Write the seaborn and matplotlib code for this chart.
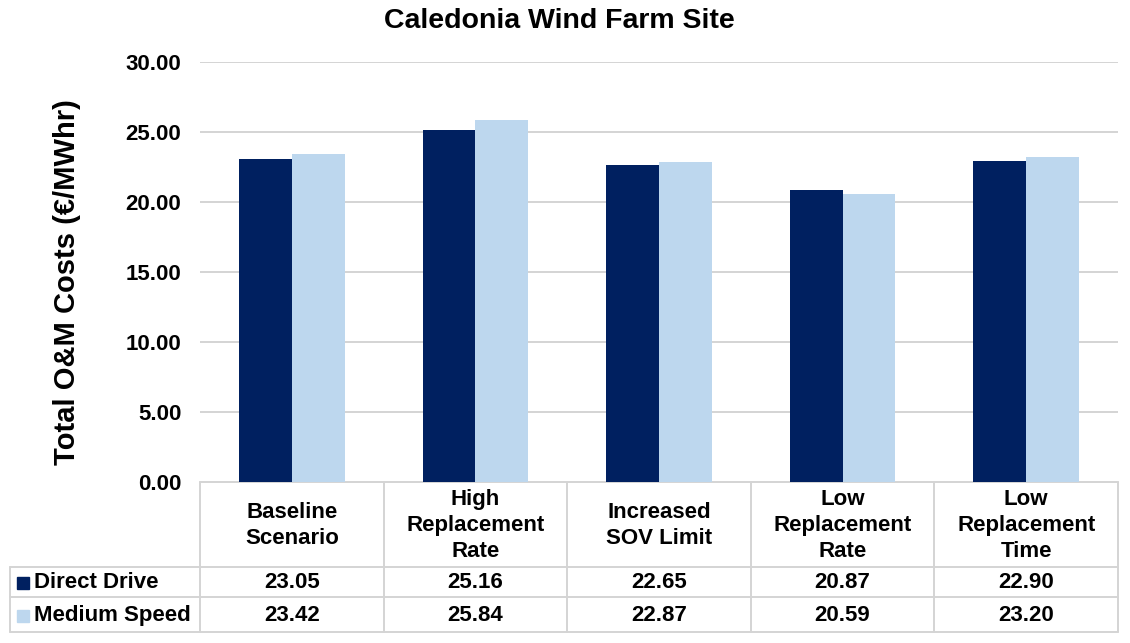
import matplotlib
matplotlib.use("Agg")
import matplotlib.pyplot as plt
import seaborn as sns
import pandas as pd
from matplotlib.lines import Line2D
from matplotlib.patches import Rectangle

categories = ["Baseline\nScenario", "High\nReplacement\nRate", "Increased\nSOV Limit",
              "Low\nReplacement\nRate", "Low\nReplacement\nTime"]
series_names = ["Direct Drive", "Medium Speed"]
direct_drive = [23.05, 25.16, 22.65, 20.87, 22.90]
medium_speed = [23.42, 25.84, 22.87, 20.59, 23.20]
yticks = [0, 5, 10, 15, 20, 25, 30]
colors = ["#002060", "#BDD7EE"]

sns.set_theme(style="white")
plt.rcParams["font.family"] = ["Liberation Sans", "DejaVu Sans"]
plt.rcParams["font.weight"] = "bold"
plt.rcParams["text.color"] = "black"
plt.rcParams["ytick.color"] = "black"

df = pd.DataFrame({
    "cat": categories * 2,
    "series": [series_names[0]] * 5 + [series_names[1]] * 5,
    "value": direct_drive + medium_speed,
})

W, H = 1130, 643
fig = plt.figure(figsize=(W / 100, H / 100), dpi=100)
L, R, T, B = 200, 1118, 62, 482
ax = fig.add_axes([L / W, 1 - B / H, (R - L) / W, (B - T) / H])
sns.barplot(data=df, x="cat", y="value", hue="series", palette=colors,
            width=0.575, saturation=1, ax=ax, legend=False, zorder=3,
            linewidth=0, edgecolor="none")
ax.set_ylim(0, 30)
ax.set_xlim(-0.5, 4.5)
ax.set_yticks(yticks)
ax.set_yticklabels([f"{v:.2f}" for v in yticks], fontsize=16, fontweight="bold")
ax.set_xticks([])
ax.set_xlabel("")
ax.set_ylabel("")
gc = "#D4D4D4"
lw = 1.4
ax.yaxis.grid(True, color=gc, linewidth=lw, zorder=0)
for s in ax.spines.values():
    s.set_visible(False)
ax.tick_params(axis="y", length=0, pad=13.5)

fig.text(67 / W, 1 - 282 / H, "Total O&M Costs (€/MWhr)", rotation=90,
         ha="center", va="center", fontsize=21, fontweight="bold")
fig.text(559 / W, 1 - 21 / H, "Caledonia Wind Farm Site",
         ha="center", va="center", fontsize=20.5, fontweight="bold")

# table overlay
tab = fig.add_axes([0, 0, 1, 1], zorder=-1)
tab.set_xlim(0, W)
tab.set_ylim(H, 0)
tab.axis("off")
r0, r1, r2, r3 = 482, 567, 597, 632
xl = 10
n = len(categories)
cw = (R - L) / n
tab.add_line(Line2D([L, R], [r0, r0], color=gc, lw=lw))
for y in (r1, r2, r3):
    tab.add_line(Line2D([xl, R], [y, y], color=gc, lw=lw))
tab.add_line(Line2D([xl, xl], [r1, r3], color=gc, lw=lw))
for i in range(n + 1):
    x = L + i * cw
    tab.add_line(Line2D([x, x], [r0, r3], color=gc, lw=lw))

for i, c in enumerate(categories):
    xc = L + (i + 0.5) * cw
    tab.text(xc, (r0 + r1) / 2 + 1, c, ha="center", va="center", fontsize=16,
             fontweight="bold", linespacing=1.33)
    tab.text(xc, (r1 + r2) / 2 + 1, f"{direct_drive[i]:.2f}", ha="center", va="center",
             fontsize=16, fontweight="bold")
    tab.text(xc, (r2 + r3) / 2 + 1, f"{medium_speed[i]:.2f}", ha="center", va="center",
             fontsize=16, fontweight="bold")

for j, (name, col) in enumerate(zip(series_names, colors)):
    yc = (r1 + r2) / 2 if j == 0 else (r2 + r3) / 2
    tab.add_patch(Rectangle((17, yc - 5), 12, 12, color=col))
    tab.text(34, yc + 1, name, ha="left", va="center", fontsize=16, fontweight="bold")

fig.savefig("out.png", dpi=100)
